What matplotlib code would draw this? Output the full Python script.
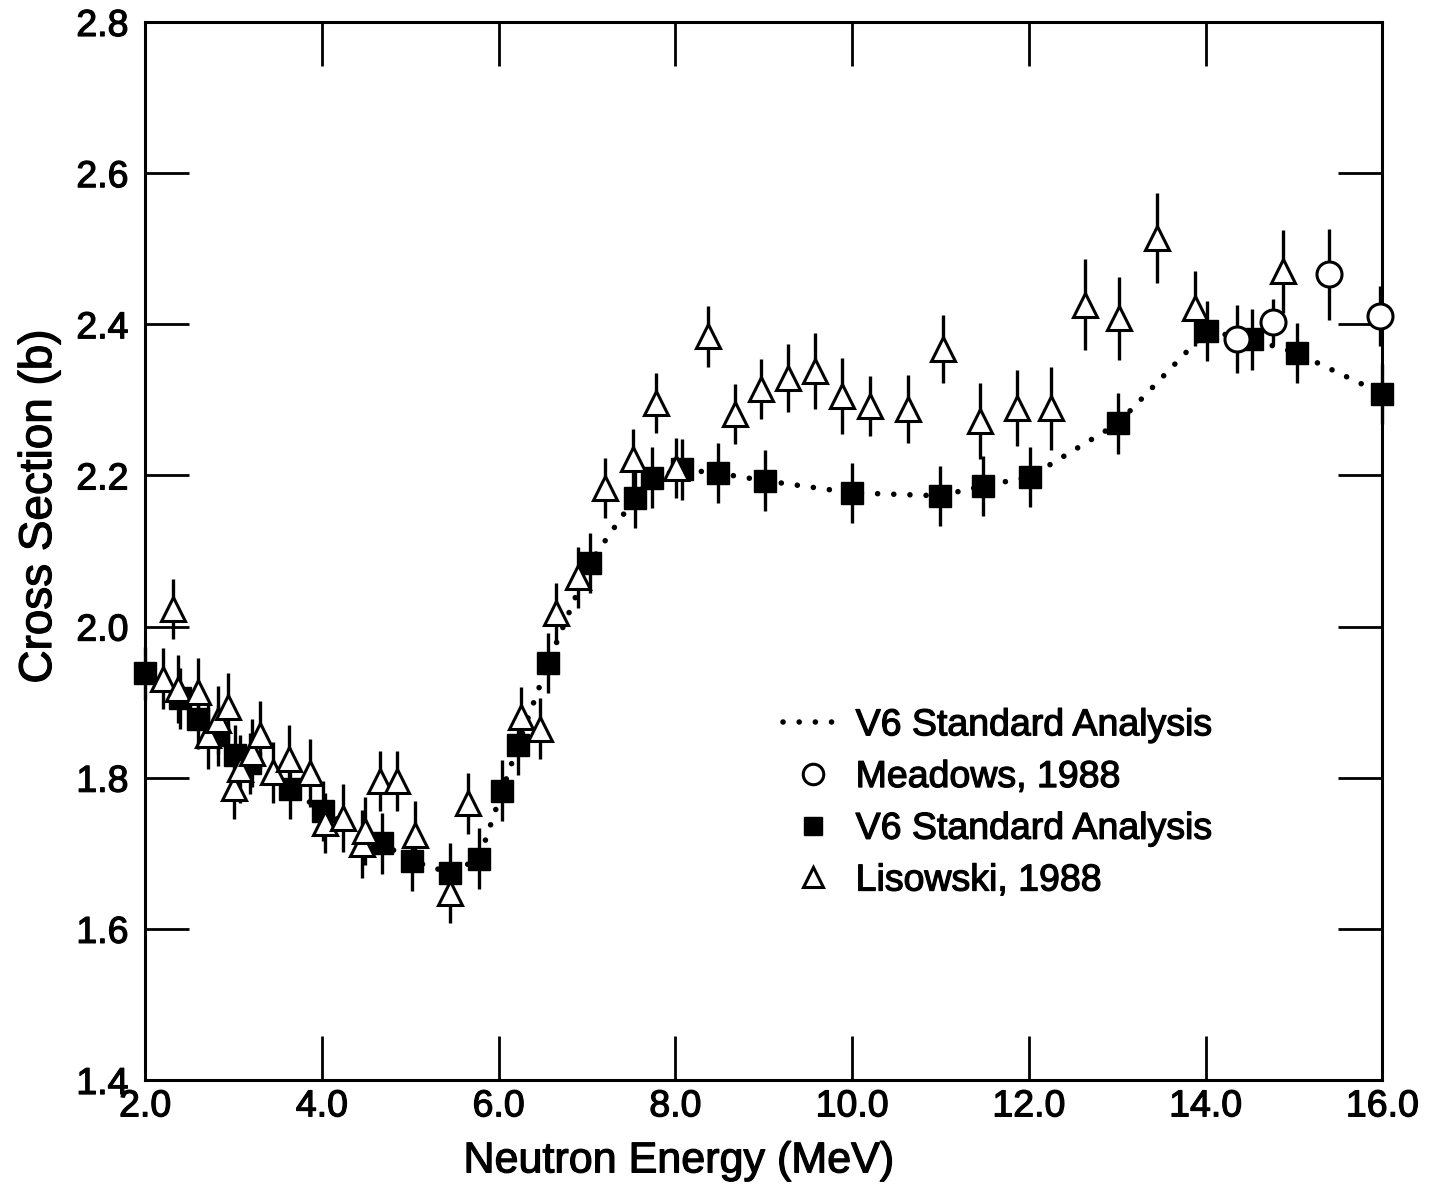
import matplotlib
matplotlib.use("Agg")
import matplotlib.pyplot as plt
import matplotlib.patheffects as pe

# V6 standard analysis (filled squares, also the dotted curve)
v6_e = [2.00, 2.40, 2.60, 2.83, 3.02, 3.19, 3.64, 4.01, 4.68, 5.02, 5.45, 5.78,
        6.04, 6.22, 6.56, 7.03, 7.54, 7.73, 8.07, 8.48, 9.01, 10.00, 10.99,
        11.48, 12.01, 13.01, 14.01, 14.52, 15.03, 16.00]
v6_xs = [1.938, 1.905, 1.878, 1.856, 1.830, 1.819, 1.785, 1.756, 1.713, 1.690,
         1.674, 1.693, 1.783, 1.843, 1.952, 2.084, 2.170, 2.197, 2.208, 2.203,
         2.193, 2.177, 2.173, 2.186, 2.198, 2.269, 2.391, 2.380, 2.362, 2.308]
v6_err = [0.035, 0.04, 0.04, 0.04, 0.04, 0.04, 0.04, 0.04, 0.04, 0.04,
          0.04, 0.04, 0.04, 0.04, 0.04, 0.04, 0.04, 0.04, 0.04, 0.04,
          0.04, 0.04, 0.04, 0.04, 0.04, 0.04, 0.04, 0.04, 0.04, 0.04]

# Meadows, 1988 (open circles)
mea_e = [14.36, 14.76, 15.40, 15.97]
mea_xs = [2.381, 2.403, 2.466, 2.411]
mea_err = [0.045, 0.03, 0.06, 0.04]

# Lisowski, 1988 (open triangles)
lis_e = [2.20, 2.32, 2.37, 2.60, 2.71, 2.83, 2.94, 3.00, 3.07, 3.21, 3.30,
         3.45, 3.63, 3.87, 4.04, 4.24, 4.45, 4.49, 4.66, 4.85, 5.05, 5.45,
         5.65, 6.25, 6.47, 6.65, 6.90, 7.20, 7.52, 7.78, 8.01, 8.37, 8.67,
         8.97, 9.27, 9.58, 9.88, 10.20, 10.63, 11.03, 11.45, 11.86, 12.25,
         12.64, 13.02, 13.45, 13.88, 14.87]
lis_xs = [1.931, 2.023, 1.918, 1.913, 1.856, 1.876, 1.893, 1.786, 1.812, 1.833,
          1.856, 1.807, 1.825, 1.806, 1.740, 1.747, 1.712, 1.730, 1.796, 1.796,
          1.724, 1.648, 1.766, 1.880, 1.865, 2.018, 2.065, 2.183, 2.222, 2.296,
          2.210, 2.384, 2.281, 2.314, 2.329, 2.338, 2.305, 2.292, 2.288, 2.367,
          2.272, 2.289, 2.289, 2.426, 2.408, 2.514, 2.421, 2.470]
lis_err = [0.04, 0.04, 0.045, 0.045, 0.045, 0.045, 0.045, 0.04, 0.045, 0.045,
           0.045, 0.04, 0.045, 0.045, 0.04, 0.045, 0.045, 0.045, 0.04, 0.04,
           0.045, 0.04, 0.04, 0.04, 0.04, 0.04, 0.04, 0.04, 0.04, 0.04,
           0.04, 0.04, 0.04, 0.04, 0.045, 0.05, 0.05, 0.04, 0.045, 0.045,
           0.05, 0.05, 0.055, 0.06, 0.055, 0.06, 0.05, 0.055]

plt.rcParams["font.family"] = ["Liberation Sans", "DejaVu Sans"]
thick = [pe.withStroke(linewidth=0.9, foreground="black")]

fig = plt.figure(figsize=(14.37, 11.88), dpi=100)
ax = fig.add_axes([0.101, 0.0909, 0.861, 0.8906])

# dotted evaluation curve
ax.plot(v6_e, v6_xs, color="black", linestyle=(0, (0.01, 2.9)), lw=4,
        dash_capstyle="round", zorder=1, label="V6 Standard Analysis")

# error bars first, markers on top
for e, y, err in [(v6_e, v6_xs, v6_err), (mea_e, mea_xs, mea_err), (lis_e, lis_xs, lis_err)]:
    eb = ax.errorbar(e, y, yerr=err, fmt="none", ecolor="black", elinewidth=2.4,
                     capsize=0, zorder=2)
    for c in eb[2]:
        c.set_clip_on(False)

ax.plot(mea_e, mea_xs, "o", ms=18, mfc="white", mec="black", mew=2.2,
        linestyle="none", zorder=4, clip_on=False, label="Meadows, 1988")
ax.plot(v6_e, v6_xs, "s", ms=16, mfc="black", mec="black", mew=1,
        linestyle="none", zorder=3, clip_on=False, label="V6 Standard Analysis")
ax.plot(lis_e, lis_xs, "^", ms=17, mfc="white", mec="black", mew=2.2,
        linestyle="none", zorder=4, clip_on=False, label="Lisowski, 1988")

ax.set_xlim(2.0, 16.0)
ax.set_ylim(1.4, 2.8)
ax.set_xticks([2, 4, 6, 8, 10, 12, 14, 16])
ax.set_xticklabels(["2.0", "4.0", "6.0", "8.0", "10.0", "12.0", "14.0", "16.0"])
ax.set_yticks([1.4, 1.6, 1.8, 2.0, 2.2, 2.4, 2.6, 2.8])
ax.set_yticklabels(["1.4", "1.6", "1.8", "2.0", "2.2", "2.4", "2.6", "2.8"])

ax.tick_params(direction="in", length=32, width=2, top=True, right=True,
               labelsize=27)
ax.tick_params(axis="x", pad=6)
ax.tick_params(axis="y", pad=12)
for lab in ax.get_xticklabels() + ax.get_yticklabels():
    lab.set_path_effects(thick)
for sp in ax.spines.values():
    sp.set_linewidth(2.2)

ax.set_xlabel("Neutron Energy (MeV)", fontsize=31, path_effects=thick)
ax.xaxis.set_label_coords(0.431, -0.058)
ax.set_ylabel("Cross Section (b)", fontsize=33, path_effects=thick)
ax.yaxis.set_label_coords(-0.068, 0.542)

leg = ax.legend(loc="upper left", bbox_to_anchor=(0.50, 0.37), frameon=False,
                fontsize=27, handlelength=1.6, handletextpad=0.35,
                labelspacing=0.42, borderpad=0, markerscale=0.82)
for t in leg.get_texts():
    t.set_path_effects(thick)

fig.savefig("out.png", dpi=100)
